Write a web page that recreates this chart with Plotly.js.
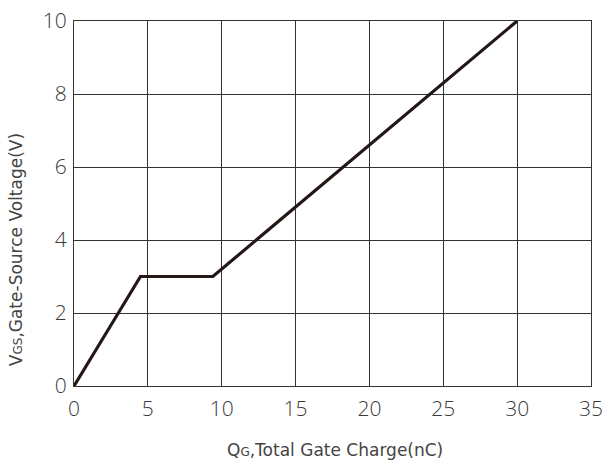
<!DOCTYPE html>
<html><head><meta charset="utf-8">
<script src="https://cdn.plot.ly/plotly-3.0.1.min.js"></script>
<style>html,body{margin:0;padding:0;background:#fff}</style>
</head><body><div id="chart" style="width:610px;height:464px"></div>
<script>
const gateCharge = [0, 4.5, 9.4, 30];
const gateVoltage = [0, 3, 3, 10];
const xTicks = [0, 5, 10, 15, 20, 25, 30, 35];
const yTicks = [0, 2, 4, 6, 8, 10];
const xTitle = 'Q<span style="font-size:12px">G</span>,Total Gate Charge(nC)';
const yTitle = 'V<span style="font-size:12px">GS</span>,Gate-Source Voltage(V)';

const trace = {
  x: gateCharge, y: gateVoltage, mode: 'lines', type: 'scatter',
  line: {color: '#231815', width: 3.2}, hoverinfo: 'skip', cliponaxis: false
};
const tickFont = {family: '"Open Sans", sans-serif', size: 21, color: '#3a3a3a', weight: 300};
const titleFont = {family: '"DejaVu Sans", sans-serif', size: 17, color: '#444'};
const plotTop = 21, plotBottom = 386.5, plotLeft = 73.5, plotRight = 591;
const layout = {
  width: 610, height: 464,
  margin: {l: plotLeft, r: 610 - plotRight, t: plotTop, b: 464 - plotBottom},
  paper_bgcolor: '#fff', plot_bgcolor: '#fff',
  showlegend: false,
  font: {family: '"Open Sans", sans-serif', color: '#231815'},
  xaxis: {
    range: [0, 35], tickvals: xTicks, ticktext: xTicks.map(String),
    showgrid: true, gridcolor: '#333', gridwidth: 1,
    zeroline: false, showline: true, linecolor: '#333', linewidth: 1, mirror: true,
    ticks: '', tickfont: tickFont, ticklabelstandoff: 4
  },
  yaxis: {
    range: [0, 10], tickvals: yTicks, ticktext: yTicks.map(String),
    showgrid: true, gridcolor: '#333', gridwidth: 1,
    zeroline: false, showline: true, linecolor: '#333', linewidth: 1, mirror: true,
    ticks: '', tickfont: tickFont, ticklabelstandoff: 2
  },
  annotations: [
    {text: xTitle, xref: 'paper', yref: 'paper', x: (335 - plotLeft) / (plotRight - plotLeft), y: 0,
     xanchor: 'center', yanchor: 'middle', yshift: -(450 - plotBottom), showarrow: false, font: titleFont},
    {text: yTitle, xref: 'paper', yref: 'paper', x: 0, y: (plotBottom - 250) / (plotBottom - plotTop),
     xanchor: 'center', yanchor: 'middle', xshift: -(plotLeft - 15), textangle: -90, showarrow: false, font: titleFont}
  ]
};
Plotly.newPlot('chart', [trace], layout, {staticPlot: true, displayModeBar: false});
</script></body></html>
